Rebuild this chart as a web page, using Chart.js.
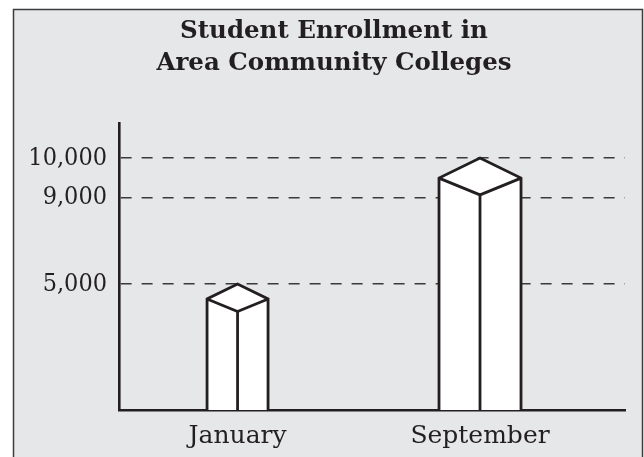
<!DOCTYPE html>
<html>
<head>
<meta charset="utf-8">
<title>Student Enrollment in Area Community Colleges</title>
<script src="https://cdn.jsdelivr.net/npm/chart.js@4/dist/chart.umd.min.js"></script>
<style>
  html, body { margin: 0; padding: 0; background: #ffffff; }
  canvas { display: block; }
</style>
</head>
<body>
<canvas id="chart" width="644" height="457"></canvas>
<script>
// ---- data ----
const titleLines = ['Student Enrollment in', 'Area Community Colleges'];
const categories = ['January', 'September'];
const enrollment = [5000, 10000];
const yTickValues = [5000, 9000, 10000];

// The printed value axis is not evenly spaced: [value, share of axis height]
const yAxisStops = [[0, 0], [5000, 0.439], [9000, 0.74], [10000, 0.878], [11000, 1]];

// ---- styling ----
const barWidths = [61, 82];
const ink = '#231f20';
const panelFill = '#e6e7e8';
const serif = 'DejaVu Serif';
const titleCenterX = 334;

function valueToShare(v) {
  const s = yAxisStops;
  if (v <= s[0][0]) return s[0][1];
  for (let i = 1; i < s.length; i++) {
    if (v <= s[i][0]) {
      const [v0, f0] = s[i - 1], [v1, f1] = s[i];
      return f0 + (v - v0) / (v1 - v0) * (f1 - f0);
    }
  }
  const [v0, f0] = s[s.length - 2], [v1, f1] = s[s.length - 1];
  return f1 + (v - v1) / (v1 - v0) * (f1 - f0);
}

function shareToValue(f) {
  const s = yAxisStops;
  for (let i = 1; i < s.length; i++) {
    if (f <= s[i][1] || i === s.length - 1) {
      const [v0, f0] = s[i - 1], [v1, f1] = s[i];
      return v0 + (f - f0) / (f1 - f0) * (v1 - v0);
    }
  }
  return s[s.length - 1][0];
}

// Linear scale whose value-to-pixel mapping follows the uneven stops above
class SegmentedScale extends Chart.LinearScale {
  getPixelForValue(value) {
    return this.getPixelForDecimal(valueToShare(value));
  }
  getValueForPixel(pixel) {
    return shareToValue(this.getDecimalForPixel(pixel));
  }
}
SegmentedScale.id = 'segmented';
SegmentedScale.defaults = Chart.LinearScale.defaults;
Chart.register(SegmentedScale);

// Grey panel with a thin frame behind the chart
const panelPlugin = {
  id: 'panel',
  beforeDraw(chart) {
    const ctx = chart.ctx;
    ctx.save();
    ctx.fillStyle = '#ffffff';
    ctx.fillRect(0, 0, chart.width, chart.height);
    ctx.fillStyle = panelFill;
    ctx.fillRect(14, 10, 629, chart.height);
    ctx.strokeStyle = '#3c3c3c';
    ctx.lineWidth = 1.5;
    ctx.beginPath();
    ctx.moveTo(13.5, chart.height + 2);
    ctx.lineTo(13.5, 9.5);
    ctx.lineTo(642.5, 9.5);
    ctx.lineTo(642.5, chart.height + 2);
    ctx.stroke();
    ctx.restore();
  }
};

// Centre the title block on the panel rather than on the full-width layout box
const titlePlacement = {
  id: 'titlePlacement',
  afterLayout(chart) {
    const t = chart.titleBlock;
    if (!t) return;
    const shift = titleCenterX - (t.left + t.right) / 2;
    t.left += shift;
    t.right += shift;
  }
};

// Each bar is drawn as an upright box with a diamond-shaped top
const prismPlugin = {
  id: 'prisms',
  afterDatasetsDraw(chart) {
    const ctx = chart.ctx;
    chart.data.datasets.forEach((ds, i) => {
      chart.getDatasetMeta(i).data.forEach(bar => {
        const { x, y, base, width } = bar.getProps(['x', 'y', 'base', 'width'], true);
        const h = width / 2;
        const side = y + h * 0.49;
        const front = y + h * 0.9;
        ctx.save();
        ctx.lineWidth = 2.8;
        ctx.strokeStyle = ink;
        ctx.fillStyle = '#ffffff';
        ctx.lineJoin = 'miter';
        ctx.beginPath();
        ctx.moveTo(x - h, base);
        ctx.lineTo(x - h, side);
        ctx.lineTo(x, y);
        ctx.lineTo(x + h, side);
        ctx.lineTo(x + h, base);
        ctx.closePath();
        ctx.fill();
        ctx.beginPath();
        ctx.moveTo(x - h, base);
        ctx.lineTo(x - h, side);
        ctx.lineTo(x, y);
        ctx.lineTo(x + h, side);
        ctx.lineTo(x + h, base);
        ctx.moveTo(x - h, side);
        ctx.lineTo(x, front);
        ctx.lineTo(x + h, side);
        ctx.moveTo(x, front);
        ctx.lineTo(x, base);
        ctx.stroke();
        ctx.restore();
      });
    });
  }
};

const datasets = categories.map((name, i) => ({
  label: name,
  data: [{ x: i, y: enrollment[i] }],
  barThickness: barWidths[i],
  backgroundColor: 'rgba(0,0,0,0)',
  borderWidth: 0
}));

new Chart(document.getElementById('chart'), {
  type: 'bar',
  data: { datasets },
  plugins: [panelPlugin, titlePlacement, prismPlugin],
  options: {
    responsive: false,
    animation: false,
    grouped: false,
    layout: { padding: { left: 14, right: 19, top: 10, bottom: 0 } },
    plugins: {
      legend: { display: false },
      tooltip: { enabled: false },
      title: {
        display: true,
        text: titleLines,
        color: ink,
        font: { family: serif, weight: 'bold', size: 24.5, lineHeight: 32 / 24.5 },
        padding: { top: 6, bottom: 43 }
      }
    },
    scales: {
      x: {
        type: 'linear',
        offset: false,
        min: -0.489,
        max: 1.598,
        z: 1,
        grid: { display: false, drawTicks: false, offset: false },
        border: { color: ink, width: 2.6 },
        afterBuildTicks: s => { s.ticks = categories.map((_, i) => ({ value: i })); },
        afterFit: s => { s.height = 47; },
        ticks: {
          callback: v => categories[v],
          color: ink,
          font: { family: serif, size: 25 },
          padding: 11,
          maxRotation: 0,
          autoSkip: false
        }
      },
      y: {
        type: 'segmented',
        min: 0,
        max: 11000,
        grid: { color: '#3a3a3a', lineWidth: 1.5, drawTicks: false },
        border: { color: ink, width: 2.6, dash: [11, 10] },
        afterBuildTicks: s => { s.ticks = yTickValues.map(v => ({ value: v })); },
        afterFit: s => { s.width = 105; },
        ticks: {
          callback: v => v.toLocaleString('en-US'),
          color: ink,
          font: { family: '"DejaVu Serif Condensed", "DejaVu Serif"', size: 25 },
          padding: 12
        }
      }
    }
  }
});
</script>
</body>
</html>
